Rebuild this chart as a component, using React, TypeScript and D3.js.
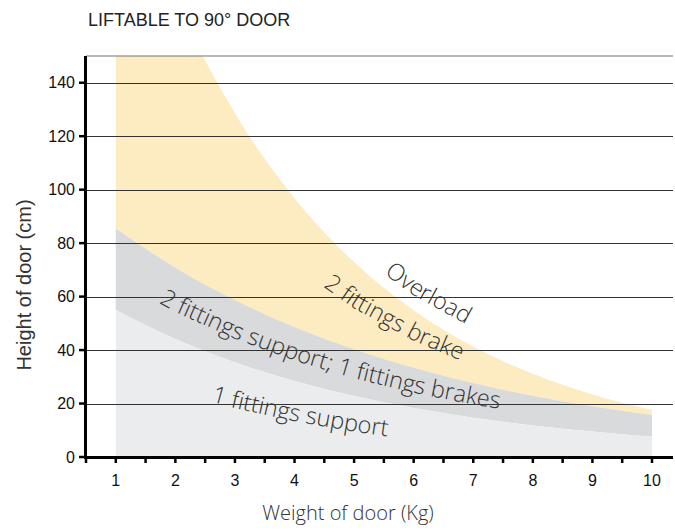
import React from "react";
import * as d3 from "d3";

const weights = [1, 2, 3, 4, 5, 6, 7, 8, 9, 10];
const oneSupport = [55, 44.1, 35.4, 28.4, 22.8, 18.3, 14.7, 11.8, 9.5, 7.6];
const twoSupport = [85.5, 70.8, 58.7, 48.6, 40.3, 33.4, 27.7, 22.9, 19.0, 15.7];
const twoBrake = [227, 171, 128.6, 96.8, 72.9, 54.9, 41.3, 31.1, 23.4, 17.6];
const yTicks = [0, 20, 40, 60, 80, 100, 120, 140];
const xTicks = [1, 2, 3, 4, 5, 6, 7, 8, 9, 10];
const xMinorTicks = d3.range(0.5, 10.01, 0.5);

const W = 675;
const H = 532;

export default function App() {
  const x = d3.scaleLinear().domain([0.5, 10]).range([86, 652]);
  const y = d3.scaleLinear().domain([0, 150]).range([457, 56]);
  const right = W - 2;

  const rows = weights.map((w, i) => ({ w, a: oneSupport[i], b: twoSupport[i], c: twoBrake[i] }));
  const curve = d3.curveMonotoneX;

  const areaLight = d3.area<any>().x(d => x(d.w)).y0(y(0)).y1(d => y(d.a)).curve(curve);
  const areaGray = d3.area<any>().x(d => x(d.w)).y0(d => y(d.a)).y1(d => y(d.b)).curve(curve);
  const areaYellow = d3.area<any>().x(d => x(d.w)).y0(d => y(d.b)).y1(d => y(d.c)).curve(curve);

  const iA = d3.scaleLinear().domain(weights).range(oneSupport);
  const iB = d3.scaleLinear().domain(weights).range(twoSupport);
  const iC = d3.scaleLinear().domain(weights).range(twoBrake);

  const labelPath = (fn: (w: number) => number, x0: number, x1: number) => {
    const pts = d3.range(x0, x1 + 0.001, 0.05).map(w => [x(w), y(fn(w))] as [number, number]);
    return d3.line().curve(d3.curveBasis)(pts) || "";
  };

  const labels = [
    { id: "lbl1", text: "1 fittings support", d: labelPath(w => 0.7 * iA(w) - 6.5, 2.6, 8) },
    { id: "lbl2", text: "2 fittings support; 1 fittings brakes", d: labelPath(w => iA(w) + 0.38 * (iB(w) - iA(w)), 1.72, 9.8) },
    { id: "lbl3", text: "2 fittings brake", d: labelPath(w => iB(w) + 0.47 * (iC(w) - iB(w)), 4.48, 9) },
    { id: "lbl4", text: "Overload", d: labelPath(w => 0.9 * iC(w) + 11, 5.5, 9) },
  ];

  return (
    <svg width={W} height={H} style={{ position: "absolute", left: 0, top: 0, background: "#fff" }}>
      <defs>
        <clipPath id="plotClip">
          <rect x={86} y={56} width={right - 86} height={457 - 56} />
        </clipPath>
        {labels.map(l => (
          <path key={l.id} id={l.id} d={l.d} fill="none" />
        ))}
      </defs>
      <text x={88} y={26} fontFamily="Liberation Sans, Arial, sans-serif" fontSize={18} fill="#222">
        LIFTABLE TO 90° DOOR
      </text>
      <g clipPath="url(#plotClip)">
        <path d={areaYellow(rows) || ""} fill="#fdebc2" />
        <path d={areaGray(rows) || ""} fill="#d9dadc" />
        <path d={areaLight(rows) || ""} fill="#ebeced" />
      </g>
      {/* top border */}
      <line x1={86} x2={right} y1={y(150)} y2={y(150)} stroke="#777" strokeWidth={1.2} />
      {yTicks.filter(t => t > 0).map(t => (
        <line key={t} x1={86} x2={right} y1={Math.round(y(t)) + 0.5} y2={Math.round(y(t)) + 0.5} stroke="#333" strokeWidth={1} />
      ))}
      {/* labels */}
      {labels.map(l => (
        <text key={l.id} fontFamily="Open Sans, sans-serif" fontWeight={300} fontSize={23.5} fill="#333">
          <textPath href={`#${l.id}`}>{l.text}</textPath>
        </text>
      ))}
      {/* y axis */}
      <line x1={85.5} x2={85.5} y1={56} y2={459} stroke="#000" strokeWidth={3} />
      {yTicks.map(t => (
        <g key={t}>
          <line x1={79} x2={86} y1={y(t)} y2={y(t)} stroke="#000" strokeWidth={2.5} />
          <text x={75} y={y(t)} dy="0.36em" textAnchor="end" fontFamily="Liberation Sans, Arial, sans-serif" fontSize={16} fill="#111">
            {t}
          </text>
        </g>
      ))}
      {/* x axis */}
      <line x1={84} x2={right} y1={457.5} y2={457.5} stroke="#000" strokeWidth={3} />
      {xMinorTicks.map(t => (
        <line key={t} x1={x(t)} x2={x(t)} y1={458} y2={463} stroke="#000" strokeWidth={2.5} />
      ))}
      {xTicks.map(t => (
        <text key={t} x={x(t)} y={486} textAnchor="middle" fontFamily="Liberation Sans, Arial, sans-serif" fontSize={16} fill="#111">
          {t}
        </text>
      ))}
      <text x={348} y={520} textAnchor="middle" fontFamily="Open Sans, sans-serif" fontWeight={300} fontSize={20} fill="#333">
        Weight of door (Kg)
      </text>
      <text transform="translate(31,285) rotate(-90)" textAnchor="middle" fontFamily="Liberation Sans, Arial, sans-serif" fontSize={20} fill="#333">
        Height of door (cm)
      </text>
    </svg>
  );
}
